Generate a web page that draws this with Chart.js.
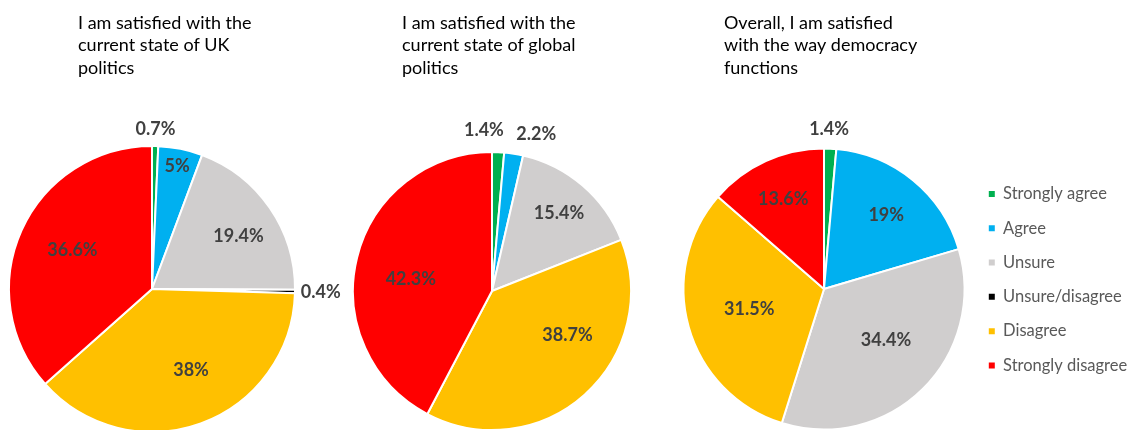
<!DOCTYPE html>
<html lang="en">
<head>
<meta charset="utf-8">
<title>Satisfaction with politics and democracy</title>
<script src="https://cdn.jsdelivr.net/npm/chart.js@4.4.1/dist/chart.umd.min.js"></script>
<style>
  html, body { margin: 0; padding: 0; background: #fff; overflow: hidden; }
  body { width: 1134px; height: 430px; position: relative; }
  canvas { position: absolute; top: 0; }
</style>
</head>
<body>
<canvas id="ukChart" width="345" height="440" style="left:0"></canvas>
<canvas id="globalChart" width="310" height="440" style="left:345px"></canvas>
<canvas id="democracyChart" width="470" height="440" style="left:670px"></canvas>
<script>
// Answer categories, same order in every pie
const categories = ['Strongly agree', 'Agree', 'Unsure', 'Unsure/disagree', 'Disagree', 'Strongly disagree'];

// Share of respondents (%) per question
const ukPolitics = [0.7, 5, 19.4, 0.4, 38, 36.6];
const globalPolitics = [1.4, 2.2, 15.4, 0, 38.7, 42.3];
const democracy = [1.4, 19, 34.4, 0, 31.5, 13.6];

// Question titles, one entry per line
const ukTitle = ['I am satisfied with the', 'current state of UK', 'politics'];
const globalTitle = ['I am satisfied with the', 'current state of global', 'politics'];
const democracyTitle = ['Overall, I am satisfied', 'with the way democracy', 'functions'];

const sliceColors = ['#00B050', '#00B0F0', '#D0CECE', '#000000', '#FFC000', '#FF0000'];

// Where each value label sits: [fraction of radius, angle nudge in degrees]
const ukPlace = [[1.12, 0], [0.88, 0], [0.71, 3], [1.18, 0], [0.63, -5.7], [0.62, 2]];
const globalPlace = [[1.16, -5.4], [1.17, 6.8], [0.74, 0], [0, 0], [0.63, -17.6], [0.59, -5.6]];
const democracyPlace = [[1.14, -0.7], [0.685, 1], [0.57, -6.2], [0, 0], [0.55, 1], [0.7, 0]];

// Percentage labels on (or next to) each slice
function sliceLabels(place) {
  return {
    id: 'sliceLabels',
    afterDatasetsDraw(chart) {
      const ctx = chart.ctx;
      const values = chart.data.datasets[0].data;
      ctx.save();
      ctx.font = 'bold 18px Lato';
      ctx.fillStyle = '#404040';
      ctx.textAlign = 'center';
      ctx.textBaseline = 'middle';
      chart.getDatasetMeta(0).data.forEach((arc, i) => {
        if (!values[i]) return;
        const p = arc.getProps(['x', 'y', 'startAngle', 'endAngle', 'outerRadius'], true);
        const [k, nudge] = place[i];
        const a = (p.startAngle + p.endAngle) / 2 + nudge * Math.PI / 180;
        ctx.fillText(values[i] + '%', p.x + Math.cos(a) * p.outerRadius * k, p.y + Math.sin(a) * p.outerRadius * k);
      });
      ctx.restore();
    }
  };
}

// Multi-line question title in the top left of each panel
function panelTitle(lines, x) {
  return {
    id: 'panelTitle',
    afterDraw(chart) {
      const ctx = chart.ctx;
      ctx.save();
      ctx.font = '18px Lato';
      ctx.fillStyle = '#000';
      ctx.textBaseline = 'alphabetic';
      lines.forEach((line, i) => ctx.fillText(line, x, 28.5 + i * 22.7));
      ctx.restore();
    }
  };
}

function makePie(id, values, title, titleX, place, padding, legend) {
  return new Chart(document.getElementById(id), {
    type: 'pie',
    data: {
      labels: categories,
      datasets: [{
        data: values,
        backgroundColor: sliceColors,
        borderColor: '#fff',
        borderWidth: 2
      }]
    },
    options: {
      responsive: false,
      animation: false,
      layout: { padding },
      plugins: {
        legend: legend || { display: false },
        tooltip: { enabled: false }
      }
    },
    plugins: [sliceLabels(place), panelTitle(title, titleX)]
  });
}

makePie('ukChart', ukPolitics, ukTitle, 78, ukPlace,
  { left: 8, right: 49, top: 145, bottom: 7 });

makePie('globalChart', globalPolitics, globalTitle, 57, globalPlace,
  { left: 7, right: 23, top: 151, bottom: 9 });

makePie('democracyChart', democracy, democracyTitle, 54, democracyPlace,
  { left: 7, right: 4, top: 147.5, bottom: 9.5 },
  {
    display: true,
    position: 'right',
    align: 'start',
    fullSize: false,
    maxWidth: 165,
    // empty title only pushes the list down a little
    title: { display: true, text: '', font: { size: 12, lineHeight: 1.25 }, padding: { top: 5.4, bottom: 0 } },
    labels: {
      boxWidth: 6,
      boxHeight: 6,
      padding: 17.8,
      color: '#595959',
      font: { family: 'Lato', size: 16.5 },
      generateLabels: (chart) => Chart.overrides.doughnut.plugins.legend.labels.generateLabels(chart)
        .map(item => ({ ...item, lineWidth: 0 }))
    }
  });
</script>
</body>
</html>
